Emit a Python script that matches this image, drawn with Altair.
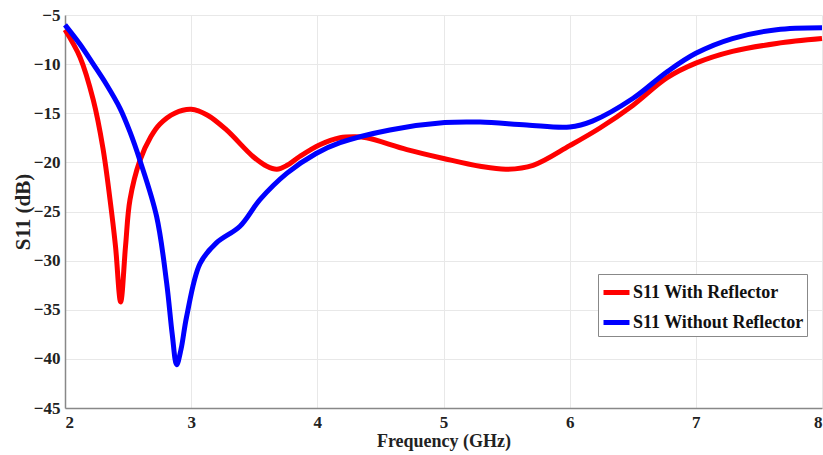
import altair as alt
import pandas as pd

freq_red = [2.0, 2.119, 2.224, 2.30, 2.357, 2.40, 2.441, 2.48, 2.515, 2.594, 2.68, 2.753,
            2.87, 3.0, 3.13, 3.28, 3.49, 3.60, 3.68, 3.76, 3.86, 4.02, 4.18, 4.30, 4.39,
            4.71, 5.0, 5.29, 5.50, 5.71, 6.0, 6.24, 6.50, 6.77, 7.0, 7.29, 7.64, 8.0]
s11_red = [-6.5, -9.3, -13.65, -18.5, -23.8, -28.5, -34.2, -28.5, -23.8, -19.8, -17.4, -16.1,
           -15.0, -14.6, -15.2, -16.7, -19.4, -20.4, -20.7, -20.3, -19.4, -18.2, -17.5, -17.4, -17.5,
           -18.7, -19.6, -20.4, -20.7, -20.3, -18.3, -16.5, -14.2, -11.4, -9.9, -8.7, -7.9, -7.4]

freq_blue = [2.0, 2.12, 2.224, 2.33, 2.436, 2.515, 2.594, 2.726, 2.806, 2.85, 2.885, 2.92, 2.964,
             3.07, 3.20, 3.387, 3.545, 3.76, 3.99, 4.18, 4.575, 5.01, 5.29, 5.66, 6.0, 6.18, 6.50,
             6.77, 7.0, 7.29, 7.64, 8.0]
s11_blue = [-6.0, -8.0, -10.0, -12.1, -14.5, -16.9, -19.8, -25.5, -32.3, -37.5, -40.6, -39.0, -35.7,
            -30.3, -28.2, -26.5, -23.8, -21.1, -19.1, -18.0, -16.7, -15.95, -15.9, -16.2, -16.4, -15.8,
            -13.5, -10.8, -8.9, -7.4, -6.5, -6.3]

series_names = ["S11 With Reflector", "S11 Without Reflector"]
series_colors = ["#ff0000", "#0000ff"]

df = pd.concat([
    pd.DataFrame({"f": freq_red, "s": s11_red, "series": series_names[0], "o": range(len(freq_red))}),
    pd.DataFrame({"f": freq_blue, "s": s11_blue, "series": series_names[1], "o": range(len(freq_blue))}),
])

font = "Times New Roman, Liberation Serif, serif"

chart = alt.Chart(df).mark_line(strokeWidth=5, interpolate="catmull-rom").encode(
    x=alt.X("f:Q", scale=alt.Scale(domain=[2, 8], nice=False),
            axis=alt.Axis(title="Frequency (GHz)", values=[2, 3, 4, 5, 6, 7, 8], format="d",
                          ticks=False, labelPadding=6, titlePadding=2,
                          labelFont=font, labelFontSize=17, labelFontWeight="bold",
                          titleFont=font, titleFontSize=18, titleFontWeight="bold")),
    y=alt.Y("s:Q", scale=alt.Scale(domain=[-45, -5], nice=False),
            axis=alt.Axis(title="S11 (dB)", values=list(range(-45, 0, 5)),
                          ticks=False, labelPadding=5, titlePadding=0,
                          labelFont=font, labelFontSize=17, labelFontWeight="bold",
                          titleFont=font, titleFontSize=21, titleFontWeight="bold")),
    color=alt.Color("series:N", scale=alt.Scale(domain=series_names, range=series_colors),
                    legend=alt.Legend(title=None, orient="none", legendX=533, legendY=259,
                                      symbolType="stroke", symbolStrokeWidth=5, symbolSize=676,
                                      labelFont=font, labelFontSize=18, labelFontWeight="bold",
                                      labelColor="#111111", padding=3, rowPadding=4,
                                      labelLimit=400,
                                      strokeColor="#888888", fillColor="white", labelOffset=1)),
    order="o:Q",
).properties(
    width=757, height=393,
    autosize=alt.AutoSizeParams(type="none"),
    padding={"left": 65, "top": 15, "right": 1, "bottom": 47},
).configure_axis(
    labelColor="#222222", titleColor="#222222",
    gridColor="#e8e8e8", domainColor="#888888", domainWidth=1.5,
).configure_view(
    stroke=None
)

chart.save("out.html", embed_options={"renderer": "svg", "actions": False})
